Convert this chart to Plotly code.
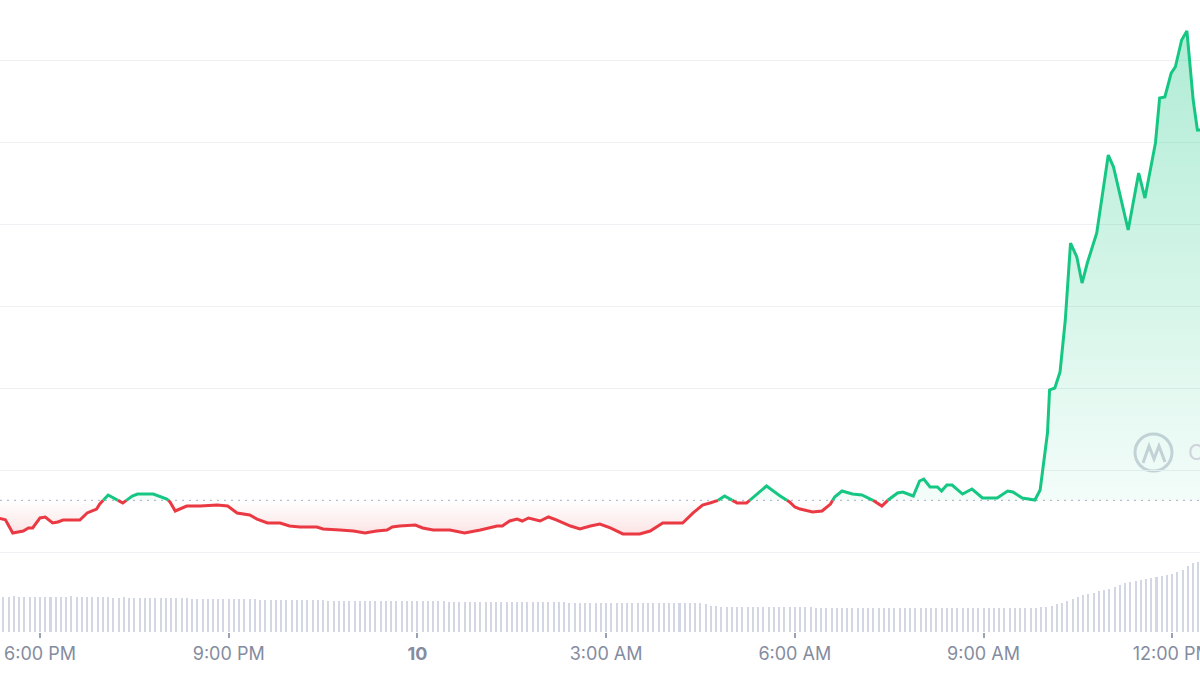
import pandas as pd
import plotly.graph_objects as go

# ---------------- data ----------------
price_times = [
    "2023-06-09 17:20", "2023-06-09 17:27", "2023-06-09 17:34", "2023-06-09 17:44", "2023-06-09 17:49",
    "2023-06-09 17:53", "2023-06-09 18:00", "2023-06-09 18:05", "2023-06-09 18:12", "2023-06-09 18:17",
    "2023-06-09 18:22", "2023-06-09 18:38", "2023-06-09 18:45", "2023-06-09 18:54", "2023-06-09 18:57",
    "2023-06-09 19:05", "2023-06-09 19:19", "2023-06-09 19:28", "2023-06-09 19:33", "2023-06-09 19:48",
    "2023-06-09 20:01", "2023-06-09 20:04", "2023-06-09 20:09", "2023-06-09 20:15", "2023-06-09 20:20",
    "2023-06-09 20:33", "2023-06-09 20:49", "2023-06-09 20:59", "2023-06-09 21:08", "2023-06-09 21:20",
    "2023-06-09 21:27", "2023-06-09 21:37", "2023-06-09 21:49", "2023-06-09 21:58", "2023-06-09 22:08",
    "2023-06-09 22:24", "2023-06-09 22:30", "2023-06-09 22:46", "2023-06-09 22:59", "2023-06-09 23:10",
    "2023-06-09 23:21", "2023-06-09 23:31", "2023-06-09 23:36", "2023-06-09 23:43", "2023-06-09 23:58",
    "2023-06-10 00:05", "2023-06-10 00:15", "2023-06-10 00:31", "2023-06-10 00:45", "2023-06-10 01:00",
    "2023-06-10 01:16", "2023-06-10 01:21", "2023-06-10 01:28", "2023-06-10 01:35", "2023-06-10 01:40",
    "2023-06-10 01:46", "2023-06-10 01:57", "2023-06-10 02:05", "2023-06-10 02:13", "2023-06-10 02:26",
    "2023-06-10 02:35", "2023-06-10 02:45", "2023-06-10 02:54", "2023-06-10 03:04", "2023-06-10 03:16",
    "2023-06-10 03:32", "2023-06-10 03:42", "2023-06-10 03:54", "2023-06-10 04:13", "2023-06-10 04:23",
    "2023-06-10 04:32", "2023-06-10 04:39", "2023-06-10 04:46", "2023-06-10 04:53", "2023-06-10 05:05",
    "2023-06-10 05:14", "2023-06-10 05:33", "2023-06-10 05:46", "2023-06-10 05:55", "2023-06-10 06:00",
    "2023-06-10 06:05", "2023-06-10 06:17", "2023-06-10 06:26", "2023-06-10 06:34", "2023-06-10 06:38",
    "2023-06-10 06:45", "2023-06-10 06:55", "2023-06-10 07:04", "2023-06-10 07:14", "2023-06-10 07:23",
    "2023-06-10 07:29", "2023-06-10 07:38", "2023-06-10 07:43", "2023-06-10 07:53", "2023-06-10 07:59",
    "2023-06-10 08:03", "2023-06-10 08:09", "2023-06-10 08:16", "2023-06-10 08:20", "2023-06-10 08:25",
    "2023-06-10 08:30", "2023-06-10 08:40", "2023-06-10 08:49", "2023-06-10 08:59", "2023-06-10 09:13",
    "2023-06-10 09:23", "2023-06-10 09:28", "2023-06-10 09:37", "2023-06-10 09:49", "2023-06-10 09:54",
    "2023-06-10 10:01", "2023-06-10 10:03", "2023-06-10 10:08", "2023-06-10 10:13", "2023-06-10 10:18",
    "2023-06-10 10:23", "2023-06-10 10:29", "2023-06-10 10:34", "2023-06-10 10:39", "2023-06-10 10:48",
    "2023-06-10 10:59", "2023-06-10 11:04", "2023-06-10 11:18", "2023-06-10 11:28", "2023-06-10 11:34",
    "2023-06-10 11:44", "2023-06-10 11:48", "2023-06-10 11:53", "2023-06-10 11:59", "2023-06-10 12:03",
    "2023-06-10 12:09", "2023-06-10 12:14", "2023-06-10 12:20", "2023-06-10 12:24", "2023-06-10 12:30",
]
price_values = [
    0.36415, 0.36394, 0.36232, 0.36256, 0.36293,
    0.36293, 0.36415, 0.36427, 0.36354, 0.36366,
    0.36390, 0.36390, 0.36476, 0.36524, 0.36585,
    0.36695, 0.36598, 0.36683, 0.36707, 0.36707,
    0.36646, 0.36610, 0.36500, 0.36537, 0.36561,
    0.36561, 0.36573, 0.36561, 0.36476, 0.36451,
    0.36402, 0.36354, 0.36354, 0.36317, 0.36305,
    0.36305, 0.36280, 0.36268, 0.36256, 0.36232,
    0.36256, 0.36268, 0.36305, 0.36317, 0.36329,
    0.36293, 0.36268, 0.36268, 0.36232, 0.36268,
    0.36317, 0.36317, 0.36378, 0.36402, 0.36378,
    0.36415, 0.36378, 0.36427, 0.36390, 0.36317,
    0.36280, 0.36317, 0.36341, 0.36293, 0.36220,
    0.36220, 0.36256, 0.36354, 0.36354, 0.36476,
    0.36573, 0.36598, 0.36622, 0.36683, 0.36598,
    0.36598, 0.36805, 0.36683, 0.36610, 0.36549,
    0.36524, 0.36488, 0.36500, 0.36585, 0.36671,
    0.36744, 0.36707, 0.36695, 0.36634, 0.36561,
    0.36634, 0.36720, 0.36732, 0.36683, 0.36866,
    0.36890, 0.36793, 0.36793, 0.36744, 0.36817,
    0.36817, 0.36707, 0.36768, 0.36659, 0.36659,
    0.36744, 0.36732, 0.36659, 0.36634, 0.36756,
    0.37451, 0.37976, 0.38000, 0.38195, 0.38829,
    0.39768, 0.39598, 0.39280, 0.39524, 0.39890,
    0.40841, 0.40695, 0.39927, 0.40622, 0.40317,
    0.40988, 0.41537, 0.41549, 0.41841, 0.41915,
    0.42244, 0.42354, 0.41512, 0.41146, 0.41146,
]
baseline_price = 0.3663

volume_start = "2023-06-09 17:20"
volume_values = [
    3.5, 3.5, 3.5, 3.6, 3.5, 3.5, 3.5, 3.5,
    3.5, 3.5, 3.5, 3.5, 3.5, 3.5, 3.6, 3.5, 3.5, 3.5, 3.5, 3.5,
    3.5, 3.5, 3.4, 3.4, 3.5, 3.4, 3.4, 3.4, 3.4, 3.4, 3.4, 3.4,
    3.4, 3.4, 3.4, 3.4, 3.4, 3.3, 3.3, 3.3, 3.3, 3.3, 3.3, 3.3,
    3.3, 3.3, 3.3, 3.3, 3.3, 3.3, 3.2, 3.2, 3.2, 3.2, 3.2, 3.2,
    3.2, 3.2, 3.2, 3.2, 3.2, 3.2, 3.2, 3.1, 3.1, 3.1, 3.1, 3.1,
    3.1, 3.1, 3.1, 3.1, 3.1, 3.1, 3.1, 3.1, 3.1, 3.1, 3.1, 3.1,
    3.1, 3.1, 3.1, 3.1, 3.1, 3.1, 3.0, 3.0, 3.0, 3.0, 3.0, 3.0,
    3.0, 3.0, 3.0, 3.0, 3.0, 3.0, 3.0, 3.0, 3.0, 3.0, 3.0, 3.0,
    3.0, 3.0, 3.0, 3.0, 3.0, 2.9, 2.9, 2.9, 2.9, 2.9, 2.9, 2.9,
    2.9, 2.9, 2.9, 2.9, 2.9, 2.9, 2.9, 2.9, 2.9, 2.9, 2.9, 2.9,
    2.9, 2.9, 2.9, 2.9, 2.9, 2.9, 2.9, 2.8, 2.6, 2.6, 2.5, 2.5,
    2.5, 2.5, 2.5, 2.5, 2.5, 2.5, 2.5, 2.5, 2.5, 2.5, 2.5, 2.5,
    2.5, 2.5, 2.5, 2.5, 2.4, 2.4, 2.4, 2.4, 2.4, 2.4, 2.4, 2.4,
    2.4, 2.4, 2.4, 2.4, 2.4, 2.4, 2.4, 2.4, 2.4, 2.4, 2.4, 2.4,
    2.4, 2.4, 2.4, 2.4, 2.4, 2.4, 2.4, 2.4, 2.4, 2.4, 2.4, 2.4,
    2.4, 2.4, 2.4, 2.4, 2.4, 2.4, 2.4, 2.4, 2.4, 2.4, 2.4, 2.5,
    2.5, 2.6, 2.8, 2.9, 3.1, 3.3, 3.5, 3.7, 3.8, 3.9, 4.1, 4.2,
    4.3, 4.5, 4.7, 4.9, 5.0, 5.1, 5.2, 5.3, 5.4, 5.5, 5.6, 5.7,
    5.8, 6.0, 6.2, 6.6, 6.9, 7.0,
]

tick_times = ["2023-06-09 18:00", "2023-06-09 21:00", "2023-06-10 00:00", "2023-06-10 03:00",
              "2023-06-10 06:00", "2023-06-10 09:00", "2023-06-10 12:00"]
tick_labels = ["6:00 PM", "9:00 PM", "<b>10</b>", "3:00 AM", "6:00 AM", "9:00 AM", "12:00 PM"]
grid_prices = [0.36, 0.37, 0.38, 0.39, 0.40, 0.41, 0.42]

x_range = ["2023-06-09 17:21:50", "2023-06-10 12:26:30"]
price_range = [0.350244, 0.427317]
volume_range = [0, 63.2]

# ---------------- styling ----------------
GREEN = "#16c784"
RED = "#ea3943"
LABEL = "#858ca0"
WATERMARK = "#d0d3dd"

# ---------------- split line at baseline ----------------
t = list(pd.to_datetime(price_times))
base = baseline_price
xs, ys = [], []
for i, (ti, pi) in enumerate(zip(t, price_values)):
    if i > 0:
        p0 = price_values[i - 1]
        if (p0 - base) * (pi - base) < 0:
            frac = (base - p0) / (pi - p0)
            xs.append(t[i - 1] + (ti - t[i - 1]) * frac)
            ys.append(base)
    xs.append(ti)
    ys.append(pi)

green_y = [y if y >= base else None for y in ys]
red_y = [y if y <= base else None for y in ys]
up_y = [max(y, base) for y in ys]
dn_y = [min(y, base) for y in ys]
base_y = [base for _ in ys]

vol_x = pd.date_range(volume_start, periods=len(volume_values), freq="5min")

fig = go.Figure()

fig.add_trace(go.Bar(x=vol_x, y=volume_values, yaxis="y", marker=dict(color="#d3d7e4", line=dict(width=0)),
                     width=115000, hoverinfo="skip", showlegend=False))

fig.add_trace(go.Scatter(x=xs, y=base_y, yaxis="y2", mode="lines", line=dict(width=0),
                         hoverinfo="skip", showlegend=False))
fig.add_trace(go.Scatter(x=xs, y=up_y, yaxis="y2", mode="lines", line=dict(width=0), fill="tonexty",
                         fillgradient=dict(type="vertical",
                                           colorscale=[[0, "rgba(22,199,132,0.05)"], [1, "rgba(22,199,132,0.34)"]]),
                         hoverinfo="skip", showlegend=False))
fig.add_trace(go.Scatter(x=xs, y=base_y, yaxis="y2", mode="lines", line=dict(width=0),
                         hoverinfo="skip", showlegend=False))
fig.add_trace(go.Scatter(x=xs, y=dn_y, yaxis="y2", mode="lines", line=dict(width=0), fill="tonexty",
                         fillgradient=dict(type="vertical",
                                           colorscale=[[0, "rgba(234,57,67,0.14)"], [1, "rgba(234,57,67,0.0)"]]),
                         hoverinfo="skip", showlegend=False))
fig.add_trace(go.Scatter(x=xs, y=red_y, yaxis="y2", mode="lines", connectgaps=False,
                         line=dict(color=RED, width=3), showlegend=False))
fig.add_trace(go.Scatter(x=xs, y=green_y, yaxis="y2", mode="lines", connectgaps=False,
                         line=dict(color=GREEN, width=3), showlegend=False))

fig.add_hline(y=base, yref="y2", line=dict(color="#a7aebd", width=1, dash="2px,5px"), layer="below")

# watermark (logo + cut-off name, as in the source screenshot)
fig.add_shape(type="circle", xref="paper", yref="paper",
              x0=1135 / 1200, x1=1172 / 1200, y0=(632 - 471) / 632, y1=(632 - 434) / 632,
              line=dict(color=WATERMARK, width=3), layer="below")
fig.add_shape(type="path", xref="paper", yref="paper",
              path="M {:.4f} {:.4f} L {:.4f} {:.4f} L {:.4f} {:.4f} L {:.4f} {:.4f} L {:.4f} {:.4f}".format(
                  1143 / 1200, (632 - 463) / 632, 1149 / 1200, (632 - 446) / 632,
                  1154 / 1200, (632 - 459) / 632, 1159 / 1200, (632 - 446) / 632,
                  1165 / 1200, (632 - 462) / 632),
              line=dict(color=WATERMARK, width=3), layer="below")
fig.add_annotation(text="C", xref="paper", yref="paper", x=1186 / 1200, y=(632 - 452) / 632,
                   xanchor="left", yanchor="middle", showarrow=False,
                   font=dict(family="Inter", size=22, color=WATERMARK))

fig.update_layout(
    width=1200, height=675,
    margin=dict(l=0, r=0, t=0, b=43, pad=0, autoexpand=False),
    paper_bgcolor="white", plot_bgcolor="white",
    showlegend=False, bargap=0,
    xaxis=dict(type="date", range=x_range, tickvals=tick_times, ticktext=tick_labels,
               ticks="outside", ticklen=5, tickwidth=1.5, tickcolor="#9aa1b1",
               showgrid=False, zeroline=False, showline=False, automargin=False,
               ticklabeloverflow="allow",
               tickfont=dict(family="Inter", size=18, color=LABEL)),
    yaxis=dict(range=volume_range, visible=False, showgrid=False, zeroline=False, fixedrange=True,
               automargin=False),
    yaxis2=dict(range=price_range, overlaying="y", side="right", tickvals=grid_prices,
                showticklabels=False, showgrid=True, gridcolor="#eef0f3", gridwidth=1.2,
                zeroline=False, showline=False, ticks="", automargin=False),
)

fig.write_html("out.html", config={"displayModeBar": False},
               post_script="document.body.style.margin='0';document.body.style.overflow='hidden';")
